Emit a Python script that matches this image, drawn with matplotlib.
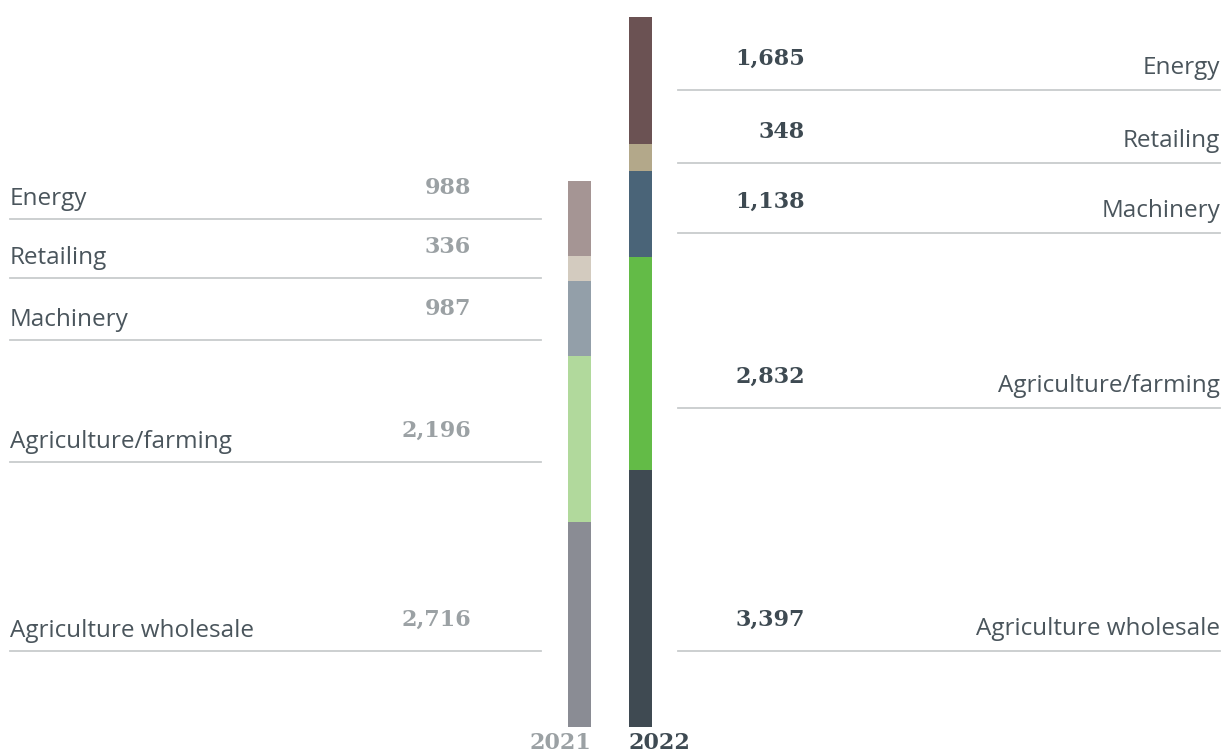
import matplotlib
matplotlib.use("Agg")
import matplotlib.pyplot as plt

# data
categories = ["Agriculture wholesale", "Agriculture/farming", "Machinery", "Retailing", "Energy"]
values_2021 = [2716, 2196, 987, 336, 988]
values_2022 = [3397, 2832, 1138, 348, 1685]
years = ["2021", "2022"]

colors_2021 = ["#8a8c94", "#b1d99c", "#939fa9", "#d3cbbf", "#a59594"]
colors_2022 = ["#3f4a52", "#63bb47", "#4a6478", "#b3a88a", "#6b5253"]

# layout in pixels (bottom to top, same order as categories)
left_lines = [651, 462, 340, 278, 219]
right_lines = [651, 408, 233, 163, 90]

W, H = 1225, 753
fig = plt.figure(figsize=(W / 100, H / 100), dpi=100)

# bar axes: y=0 at pixel 727, top of 2022 bar at pixel 17
total = sum(values_2022)
ax = fig.add_axes([0, (H - 727) / H, 1, 710 / H])
ax.set_xlim(0, W)
ax.set_ylim(0, total)
ax.axis("off")

for x, vals, cols in [(579.5, values_2021, colors_2021), (640.5, values_2022, colors_2022)]:
    bottom = 0
    for v, c in zip(vals, cols):
        ax.bar(x, v, width=23, bottom=bottom, color=c, linewidth=0)
        bottom += v

# overlay in pixel coords for labels and rules
ov = fig.add_axes([0, 0, 1, 1], facecolor="none")
ov.set_xlim(0, W)
ov.set_ylim(H, 0)
ov.axis("off")

line_col = "#c8cccd"
lab_col = "#4a555c"
label_font = dict(family="Open Sans", fontsize=17.5, color=lab_col)
num_font = dict(family="DejaVu Serif", fontsize=16, fontweight="bold")

for cat, v, y in zip(categories, values_2021, left_lines):
    ov.plot([10, 541], [y, y], color=line_col, lw=1.3)
    ov.text(10, y - 14, cat, ha="left", va="baseline", **label_font)
    ov.text(471, y - 25, f"{v:,}", ha="right", va="baseline", color="#9ba1a4", **num_font)

for cat, v, y in zip(categories, values_2022, right_lines):
    ov.plot([678, 1220], [y, y], color=line_col, lw=1.3)
    ov.text(1220, y - 16, cat, ha="right", va="baseline", **label_font)
    ov.text(805, y - 25, f"{v:,}", ha="right", va="baseline", color="#3e4a52", **num_font)

ov.text(591, 749, years[0], ha="right", va="baseline", color="#9ba1a4", **num_font)
ov.text(629, 749, years[1], ha="left", va="baseline", color="#3e4a52", **num_font)

fig.savefig("out.png", dpi=100)
